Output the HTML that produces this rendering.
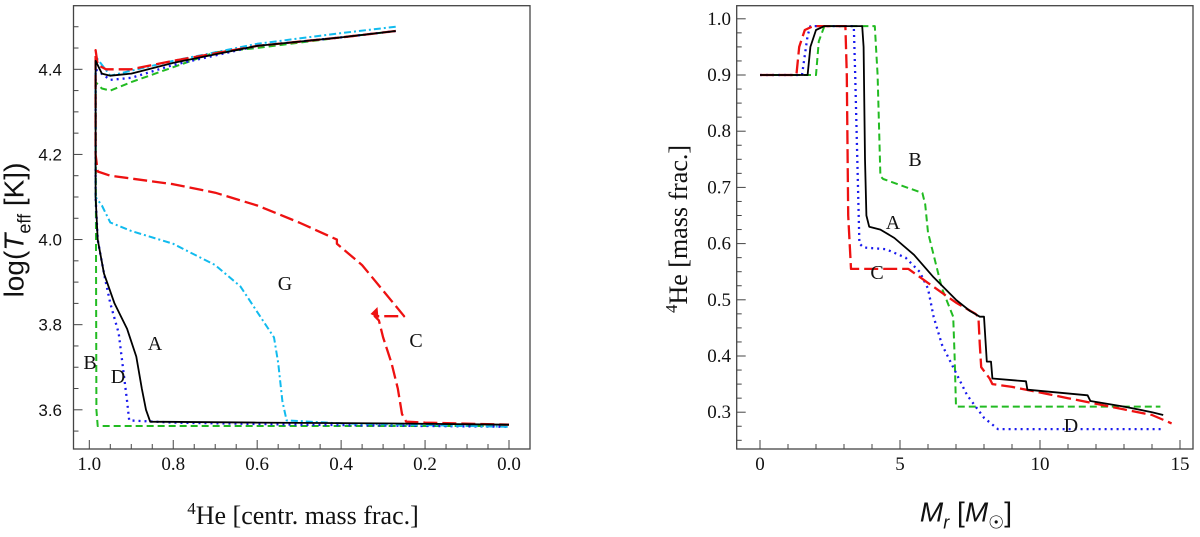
<!DOCTYPE html>
<html><head><meta charset="utf-8"><style>
body{margin:0;background:#fff;}
svg text{font-family:"Liberation Serif",serif;}
</style></head><body>
<svg id="c" width="1200" height="532" viewBox="0 0 1200 532" xmlns="http://www.w3.org/2000/svg"></svg>
<script>
// ---- Left panel data (x: central 4He, y: log Teff) ----
const leftXTicks=[1.0,0.8,0.6,0.4,0.2,0.0];
const leftYTicks=[3.6,3.8,4.0,4.2,4.4];
const leftA_x=[0.27,0.4,0.6,0.8,0.9,0.95,0.97,0.985,0.985,0.98,0.965,0.94,0.91,0.888,0.875,0.865,0.855,0.6,0.3,0.0];
const leftA_y=[4.49,4.475,4.455,4.415,4.39,4.385,4.39,4.42,4.1,4.0,3.92,3.85,3.79,3.725,3.65,3.6,3.572,3.57,3.568,3.565];
const leftB_x=[0.27,0.4,0.6,0.7,0.8,0.9,0.95,0.97,0.985,0.983,0.98,0.6,0.3,0.0];
const leftB_y=[4.49,4.475,4.45,4.44,4.405,4.37,4.35,4.355,4.37,3.6,3.562,3.562,3.562,3.562];
const leftC_x=[0.27,0.4,0.6,0.8,0.9,0.96,0.98,0.985,0.985,0.98,0.95,0.8,0.7,0.6,0.5,0.41,0.41,0.35,0.3,0.25,0.32,0.31,0.3,0.28,0.265,0.255,0.245,0.2,0.0];
const leftC_y=[4.49,4.475,4.455,4.42,4.40,4.40,4.41,4.445,4.2,4.16,4.15,4.13,4.11,4.08,4.04,4.0,3.99,3.94,3.88,3.82,3.82,3.81,3.77,3.71,3.65,3.59,3.572,3.57,3.565];
const leftD_x=[0.27,0.4,0.6,0.8,0.9,0.95,0.985,0.985,0.98,0.965,0.95,0.93,0.92,0.91,0.905,0.8,0.5,0.0];
const leftD_y=[4.49,4.475,4.455,4.41,4.38,4.375,4.40,4.1,4.0,3.92,3.85,3.78,3.7,3.62,3.575,3.57,3.565,3.56];
const leftG_x=[0.27,0.4,0.6,0.8,0.95,0.985,0.985,0.97,0.95,0.9,0.8,0.7,0.64,0.6,0.56,0.55,0.54,0.53,0.4,0.0];
const leftG_y=[4.50,4.485,4.46,4.42,4.385,4.43,4.1,4.08,4.04,4.02,3.99,3.94,3.89,3.83,3.77,3.71,3.62,3.575,3.568,3.56];
// ---- Right panel data (x: Mr, y: 4He) ----
const rightXTicks=[0,5,10,15];
const rightYTicks=[0.3,0.4,0.5,0.6,0.7,0.8,0.9,1.0];
const rightA_x=[0,1.7,1.8,2.0,2.3,3.65,3.7,3.75,3.8,3.9,4.3,4.8,5.5,6.2,7,7.5,7.85,8.0,8.05,8.1,8.25,8.3,9.5,9.55,11.7,11.8,13,14,14.4];
const rightA_y=[0.9,0.9,0.95,0.98,0.987,0.987,0.95,0.75,0.65,0.63,0.625,0.61,0.58,0.54,0.5,0.48,0.47,0.47,0.43,0.39,0.39,0.36,0.355,0.34,0.33,0.32,0.31,0.30,0.295];
const rightB_x=[0,2.0,2.1,2.3,4.1,4.2,4.3,4.4,5.8,5.9,6.0,6.5,6.9,6.95,7.0,14.3];
const rightB_y=[0.9,0.9,0.96,0.987,0.987,0.9,0.72,0.715,0.69,0.67,0.62,0.52,0.47,0.4,0.31,0.31];
const rightC_x=[0,1.3,1.4,1.6,1.9,3.05,3.1,3.15,3.25,5.3,6,7,7.7,7.8,7.85,7.9,8.2,8.3,9,10,11,12,13,14,14.7];
const rightC_y=[0.9,0.9,0.95,0.98,0.987,0.987,0.9,0.65,0.555,0.555,0.53,0.495,0.475,0.47,0.42,0.38,0.36,0.35,0.345,0.335,0.325,0.315,0.305,0.295,0.28];
const rightD_x=[0,1.5,1.7,1.8,3.35,3.4,3.5,3.55,3.7,4.5,5.2,5.7,6,6.2,6.5,7,7.4,8,8.5,14.4];
const rightD_y=[0.9,0.9,0.97,0.987,0.987,0.9,0.7,0.6,0.593,0.59,0.575,0.55,0.52,0.47,0.42,0.37,0.33,0.29,0.27,0.27];

const NS="http://www.w3.org/2000/svg";
const svg=document.getElementById('c');
function mk(tag,attrs,parent){const e=document.createElementNS(NS,tag);for(const k in attrs)e.setAttribute(k,attrs[k]);(parent||svg).appendChild(e);return e;}

const Lx=v=>89.3+(1-v)*419.7;
const Ly=v=>69.3+(4.4-v)/0.8*340.5;
const Rx=v=>760+v*28;
const Ry=v=>18.8+(1-v)*562;

function panel(name,x0,x1,y0,y1){
  const r=mk('rect',{x:x0,y:y0,width:x1-x0,height:y1-y0,fill:'none',stroke:'#444','stroke-width':1.3});
  
  
}
panel('left-plot',73.5,530,5.7,449);
panel('right-plot',736.7,1193,5.7,449);

function tick(x1,y1,x2,y2,nm){const t=mk('line',{x1,y1,x2,y2,stroke:'#444','stroke-width':1});
  
  }
function label(x,y,txt,nm,anchor,size,fam){const t=mk('text',{x,y,'font-size':size||18,'text-anchor':anchor||'middle',fill:'#111'});
  if(fam)t.setAttribute('style','font-family:'+fam);
  t.textContent=txt;
  
  }

for(let i=0;i<=20;i++){const v=i*0.05;const x=Lx(v);const maj=i%4==0;tick(x,449,x,449-(maj?9:5),'left-x-tick');}
leftXTicks.forEach(v=>label(Lx(v),470,v.toFixed(1),'left-x-tick-label','middle',19));
for(let i=0;i<=20;i++){const v=3.55+i*0.05;const y=Ly(v);if(y<6)continue;const maj=(Math.round(v*100)%20)==0;tick(73.5,y,73.5+(maj?9:5),y,'left-y-tick');}
leftYTicks.forEach(v=>label(62,Ly(v)+6,v.toFixed(1),'left-y-tick-label','end',17,"'Liberation Sans',sans-serif"));

for(let v=0;v<=15;v++){const x=Rx(v);tick(x,449,x,449-(v%5==0?9:5),'right-x-tick');}
rightXTicks.forEach(v=>label(Rx(v),470,String(v),'right-x-tick-label','middle',19));
for(let i=0;i<=32;i++){const v=0.225+i*0.025;const y=Ry(v);if(y<7||y>449)continue;const maj=(Math.round(v*1000)%100)==0;tick(736.7,y,736.7+(maj?9:5),y,'right-y-tick');}
rightYTicks.forEach(v=>label(731,Ry(v)+6,v.toFixed(1),'right-y-tick-label','end',19));

function series(xs,ys,fx,fy,color,dash,w,nm){
  const d=xs.map((x,i)=>(i?'L':'M')+fx(x).toFixed(1)+','+fy(ys[i]).toFixed(1)).join(' ');
  const p=mk('path',{d,fill:'none',stroke:color,'stroke-width':w,'stroke-dasharray':dash,'stroke-linejoin':'round'});
  
  
}
series(leftB_x,leftB_y,Lx,Ly,'#22bb22','7,4',2,'left-series-b');
series(leftD_x,leftD_y,Lx,Ly,'#1a1aee','2,4',2.3,'left-series-d');
series(leftG_x,leftG_y,Lx,Ly,'#11bbee','7,3,2,3',2,'left-series-g');
series(leftC_x,leftC_y,Lx,Ly,'#ee1111','14,5',2.3,'left-series-c');
series(leftA_x,leftA_y,Lx,Ly,'#000','',1.8,'left-series-a');
const ah=mk('path',{d:`M${Lx(0.33).toFixed(1)},${Ly(3.825).toFixed(1)} l7,-7 l1,11 z`,fill:'#ee1111'});



series(rightB_x,rightB_y,Rx,Ry,'#22bb22','7,4',2,'right-series-b');
series(rightD_x,rightD_y,Rx,Ry,'#1a1aee','2,4',2.3,'right-series-d');
series(rightC_x,rightC_y,Rx,Ry,'#ee1111','14,5',2.3,'right-series-c');
series(rightA_x,rightA_y,Rx,Ry,'#000','',1.8,'right-series-a');

[['A',155,350],['B',90,369],['D',118,383],['G',285,290],['C',416,347]].forEach(a=>label(a[1],a[2],a[0],'left-curve-label-'+a[0].toLowerCase(),'middle',20));
[['B',915,166],['A',893,229],['C',877,279],['D',1071,432]].forEach(a=>label(a[1],a[2],a[0],'right-curve-label-'+a[0].toLowerCase(),'middle',20));
</script>
<div style="position:absolute;left:0;top:0;width:1200px;height:532px;pointer-events:none">
<div style="position:absolute;left:17px;top:230px;transform:translate(-50%,-50%) rotate(-90deg);white-space:nowrap;font-family:'Liberation Sans',sans-serif;font-size:28px;color:#111">log(<i>T</i><sub style="font-size:18px">eff</sub> [K])</div>
<div style="position:absolute;left:303px;top:515px;transform:translate(-50%,-50%);white-space:nowrap;font-family:'Liberation Serif',serif;font-size:26px;color:#111"><sup style="font-size:17px">4</sup>He [centr. mass frac.]</div>
<div style="position:absolute;left:678px;top:229px;transform:translate(-50%,-50%) rotate(-90deg);white-space:nowrap;font-family:'Liberation Serif',serif;font-size:26px;color:#111"><sup style="font-size:17px">4</sup>He [mass frac.]</div>
<div style="position:absolute;left:966px;top:515px;transform:translate(-50%,-50%);white-space:nowrap;font-family:'Liberation Sans',sans-serif;font-size:28px;color:#111"><i>M<sub style="font-size:18px">r</sub></i> [<i>M</i><sub style="font-size:18px">☉</sub>]</div>
</div>
</body></html>
